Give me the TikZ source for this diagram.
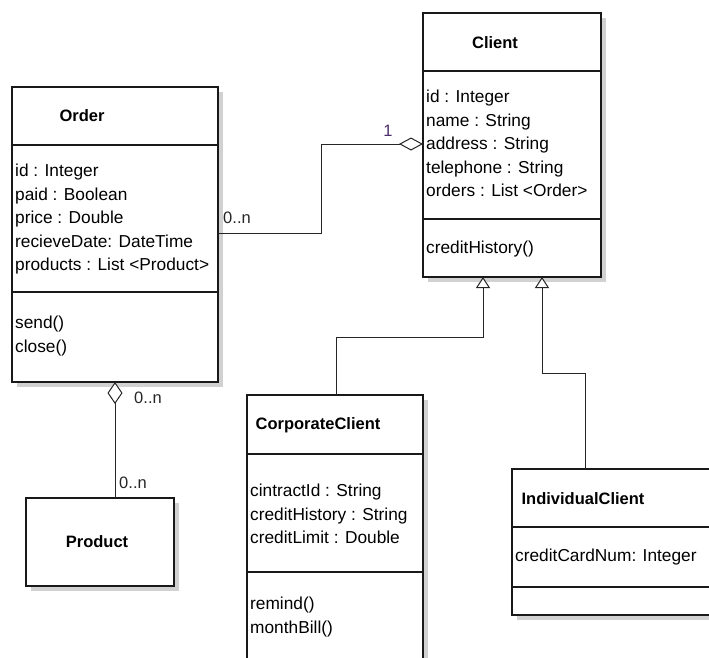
\documentclass[tikz,border=0pt]{standalone}
\usepackage{fontspec}
\setmainfont{Liberation Sans}
\usetikzlibrary{arrows.meta,backgrounds}
\tikzset{
	classbox/.style={draw=black!90, line width=1.2pt, fill=white, inner sep=0pt, outer sep=0pt, anchor=north west},
	boxshadow/.style={fill=black!18},
	sepline/.style={draw=black!90, line width=1.2pt},
	classname/.style={font=\bfseries\fontsize{16.5}{20}\selectfont, inner sep=0pt},
	members/.style={font=\fontsize{17.3}{23.5}\selectfont, align=left, inner sep=0pt, anchor=north west},
	mult/.style={font=\fontsize{16.5}{20}\selectfont, inner sep=0pt, text=black!85},
	assoc/.style={draw=black!85, line width=1pt},
	inherit/.style={draw=black!85, line width=1pt, -{Triangle[open, length=11pt, width=14pt, fill=white]}}
}

\begin{document}
\begin{tikzpicture}[x=1pt, y=-1pt]
			%%%%% START %%%%%
			\useasboundingbox (0,0) rectangle (709,657);
			
			% Order
			\node[classbox, minimum width=206pt, minimum height=295pt] (order) at (12,87) {};
			\draw[sepline] (order.west |- 0,145) -- (order.east |- 0,145);
			\draw[sepline] (order.west |- 0,292) -- (order.east |- 0,292);
			\node[classname] (orderName) at (82,116) {Order};
			\node[members] (orderAttr) at (15,164) {id : Integer\\paid : Boolean\\price : Double\\recieveDate: DateTime\\products : List <Product>};
			\node[members] (orderOps) at (15,316) {send()\\close()};
			
			% Client
			\node[classbox, minimum width=178pt, minimum height=264pt] (client) at (423,13) {};
			\draw[sepline] (client.west |- 0,71) -- (client.east |- 0,71);
			\draw[sepline] (client.west |- 0,219) -- (client.east |- 0,219);
			\node[classname] (clientName) at (495,43) {Client};
			\node[members] (clientAttr) at (426,90) {id : Integer\\name : String\\address : String\\telephone : String\\orders : List <Order>};
			\node[members] (clientOps) at (426,241) {creditHistory()};
			
			% Product
			\node[classbox, minimum width=148pt, minimum height=88pt] (product) at (26,498) {};
			\node[classname] (productName) at (97,542) {Product};
			
			% CorporateClient
			\node[classbox, minimum width=176pt, minimum height=290pt] (corp) at (247,395) {};
			\draw[sepline] (corp.west |- 0,454) -- (corp.east |- 0,454);
			\draw[sepline] (corp.west |- 0,572) -- (corp.east |- 0,572);
			\node[classname] (corpName) at (318,425) {CorporateClient};
			\node[members] (corpAttr) at (250,484) {cintractId : String\\creditHistory : String\\creditLimit : Double};
			\node[members] (corpOps) at (250,597) {remind()\\monthBill()};
			
			% IndividualClient
			\node[classbox, minimum width=202pt, minimum height=146pt] (indiv) at (512,469) {};
			\draw[sepline] (indiv.west |- 0,527) -- (indiv.east |- 0,527);
			\draw[sepline] (indiv.west |- 0,587) -- (indiv.east |- 0,587);
			\node[classname] (indivName) at (583,499) {IndividualClient};
			\node[members] (indivAttr) at (515,549) {creditCardNum: Integer};
			
			% shadows
			\begin{scope}[on background layer]
				\fill[white] (0,0) rectangle (709,657);
				\foreach \cls in {order,client,product,corp,indiv}
					\fill[boxshadow] ([shift={(5,5)}]\cls.north west) rectangle ([shift={(5,5)}]\cls.south east);
			\end{scope}
			
			% associations
			\draw[assoc, -{Diamond[open, length=24pt, width=13pt, fill=white]}] (order.east |- 0,233) -- (321,233) |- (client.west |- 0,144);
			\node[mult, text={rgb,255:red,75;green,45;blue,105}] (multClient) at (388,131) {1};
			\node[mult] (multOrder) at (237,218) {0..n};
			
			\draw[assoc, {Diamond[open, length=22pt, width=15pt, fill=white]}-] (order.south -| 115,0) -- (product.north -| 115,0);
			\node[mult] (multOrderTop) at (148,398) {0..n};
			\node[mult] (multProduct) at (133,483) {0..n};
			
			% generalisations
			\draw[inherit] (corp.north -| 336,0) -- (336,337) -| (client.south -| 483,0);
			\draw[inherit] (indiv.north -| 585,0) -- (585,373) -| (client.south -| 542,0);
			
			%%%%% END %%%%%
\end{tikzpicture}
\end{document}
